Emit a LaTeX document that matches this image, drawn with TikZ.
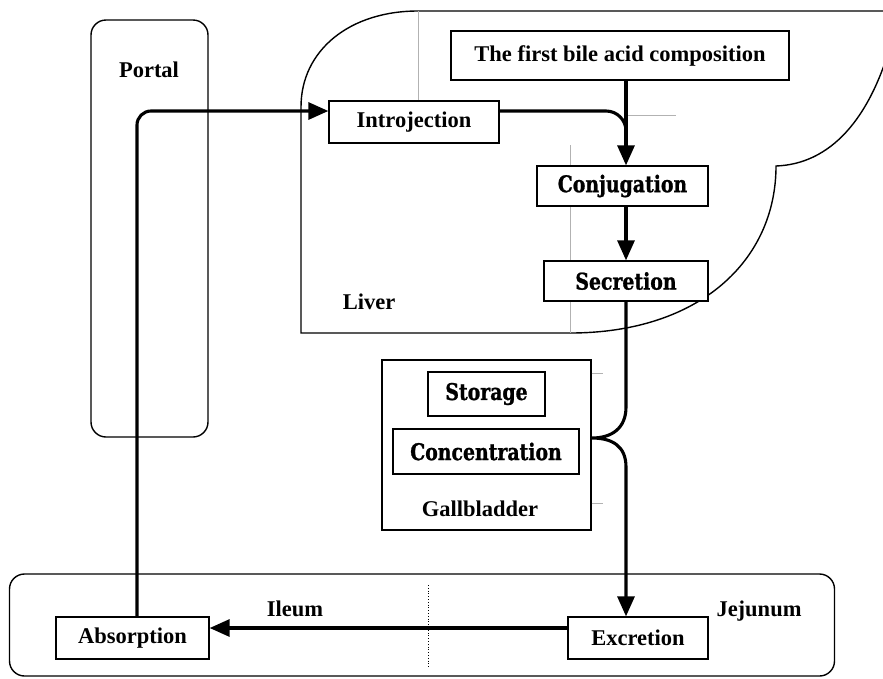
\documentclass[tikz,border=0pt]{standalone}
\usepackage{fontspec}
\setmainfont{Liberation Serif}
\newfontfamily\heavyfont{DejaVu Serif}[FakeStretch=0.82,FakeBold=1]
\usetikzlibrary{arrows.meta,calc}
\begin{document}
\begin{tikzpicture}[x=1pt,y=-1pt,
  box/.style={draw, fill=white, line width=1.3pt, inner sep=0pt, font=\fontsize{22.5}{27}\selectfont\bfseries},
  hbox/.style={draw, fill=white, line width=1.3pt, inner sep=0pt, font=\heavyfont\fontsize{23}{27}\selectfont\bfseries},
  lbl/.style={inner sep=0pt, font=\fontsize{22.5}{27}\selectfont\bfseries},
  flow/.style={line width=3.1pt, -{Triangle[length=20pt,width=17pt]}},
  flowline/.style={line width=3.1pt},
  outline/.style={line width=1.4pt},
  faint/.style={line width=0.8pt, black!30}]
\useasboundingbox (0,0) rectangle (883,678);
\begin{scope}
\clip (0,0) rectangle (883,678);
% regions
\node[draw, outline, rounded corners=15pt, minimum width=117pt, minimum height=417pt] (portal) at (149.5,228.5) {};
\node[draw, outline, rounded corners=15pt, minimum width=825pt, minimum height=102pt] (intestine) at (422,625) {};
\draw[outline] (570,333) -- (301,333) -- (301,107) .. controls (301,50) and (350,11) .. (418,11) -- (895,11);
\draw[outline] (570,333) .. controls (700,333) and (776,260) .. (776,166) .. controls (830,164) and (870,120) .. (892,40);
\draw[faint] (418,11) -- (418,101);
\draw[faint] (570,145) -- (570,333);
\draw[faint] (626,115) -- (676,115);
\draw[dotted, line width=0.8pt] (428,585) -- (428,668);
\end{scope}
% labels
\node[lbl] (portallbl) at (149,70) {Portal};
\node[lbl] (liverlbl) at (369,302) {Liver};
\node[lbl] (ileumlbl) at (295,609) {Ileum};
\node[lbl] (jejunumlbl) at (759,611) {Jejunum};
% boxes
\node[box, minimum width=338pt, minimum height=49pt] (firstbile) at (620,55.5) {The first bile acid composition};
\node[box, minimum width=170pt, minimum height=42pt] (introjection) at (414,122) {Introjection};
\node[hbox, minimum width=171pt, minimum height=40pt] (conjugation) at (622.5,186) {Conjugation};
\node[hbox, minimum width=164pt, minimum height=40pt] (secretion) at (626,281) {Secretion};
\node[draw, outline, minimum width=209pt, minimum height=170pt] (gall) at (486.5,445) {};
\node[hbox, minimum width=117pt, minimum height=44pt] (storage) at (486.5,394) {Storage};
\node[hbox, minimum width=186pt, minimum height=45pt] (concentration) at (486,451.5) {Concentration};
\node[lbl] (galllbl) at (480,509) {Gallbladder};
\node[box, minimum width=153pt, minimum height=42pt] (absorption) at (132.5,638) {Absorption};
\node[box, minimum width=140pt, minimum height=42pt] (excretion) at (638,638) {Excretion};
\draw[faint] ([yshift=-14pt]gall.north east) -- ++(11,0);
\draw[faint] ([yshift=27pt]gall.south east) -- ++(11,0);
% connectors
\coordinate (join) at (626,150);
\coordinate (brtop) at (626,407);
\coordinate (cusp) at (592,438);
\coordinate (brbot) at (626,467);
\draw[flow, rounded corners=14pt] ([xshift=4.5pt]absorption.north) |- ([yshift=11pt]introjection.west);
\draw[flowline, rounded corners=20pt] ([yshift=11pt]introjection.east) -| (join);
\draw[flow] (firstbile.south -| secretion.north) -- (conjugation.north -| secretion.north);
\draw[flow] (conjugation.south -| secretion.north) -- (secretion.north);
\draw[flow] (secretion.south) -- (brtop) .. controls (626,428) and (612,438) .. (cusp) .. controls (612,438) and (626,446) .. (brbot) -- (excretion.north -| secretion.south);
\draw[flow] ([yshift=10pt]excretion.west) -- ([yshift=10pt]absorption.east);
\end{tikzpicture}
\end{document}
